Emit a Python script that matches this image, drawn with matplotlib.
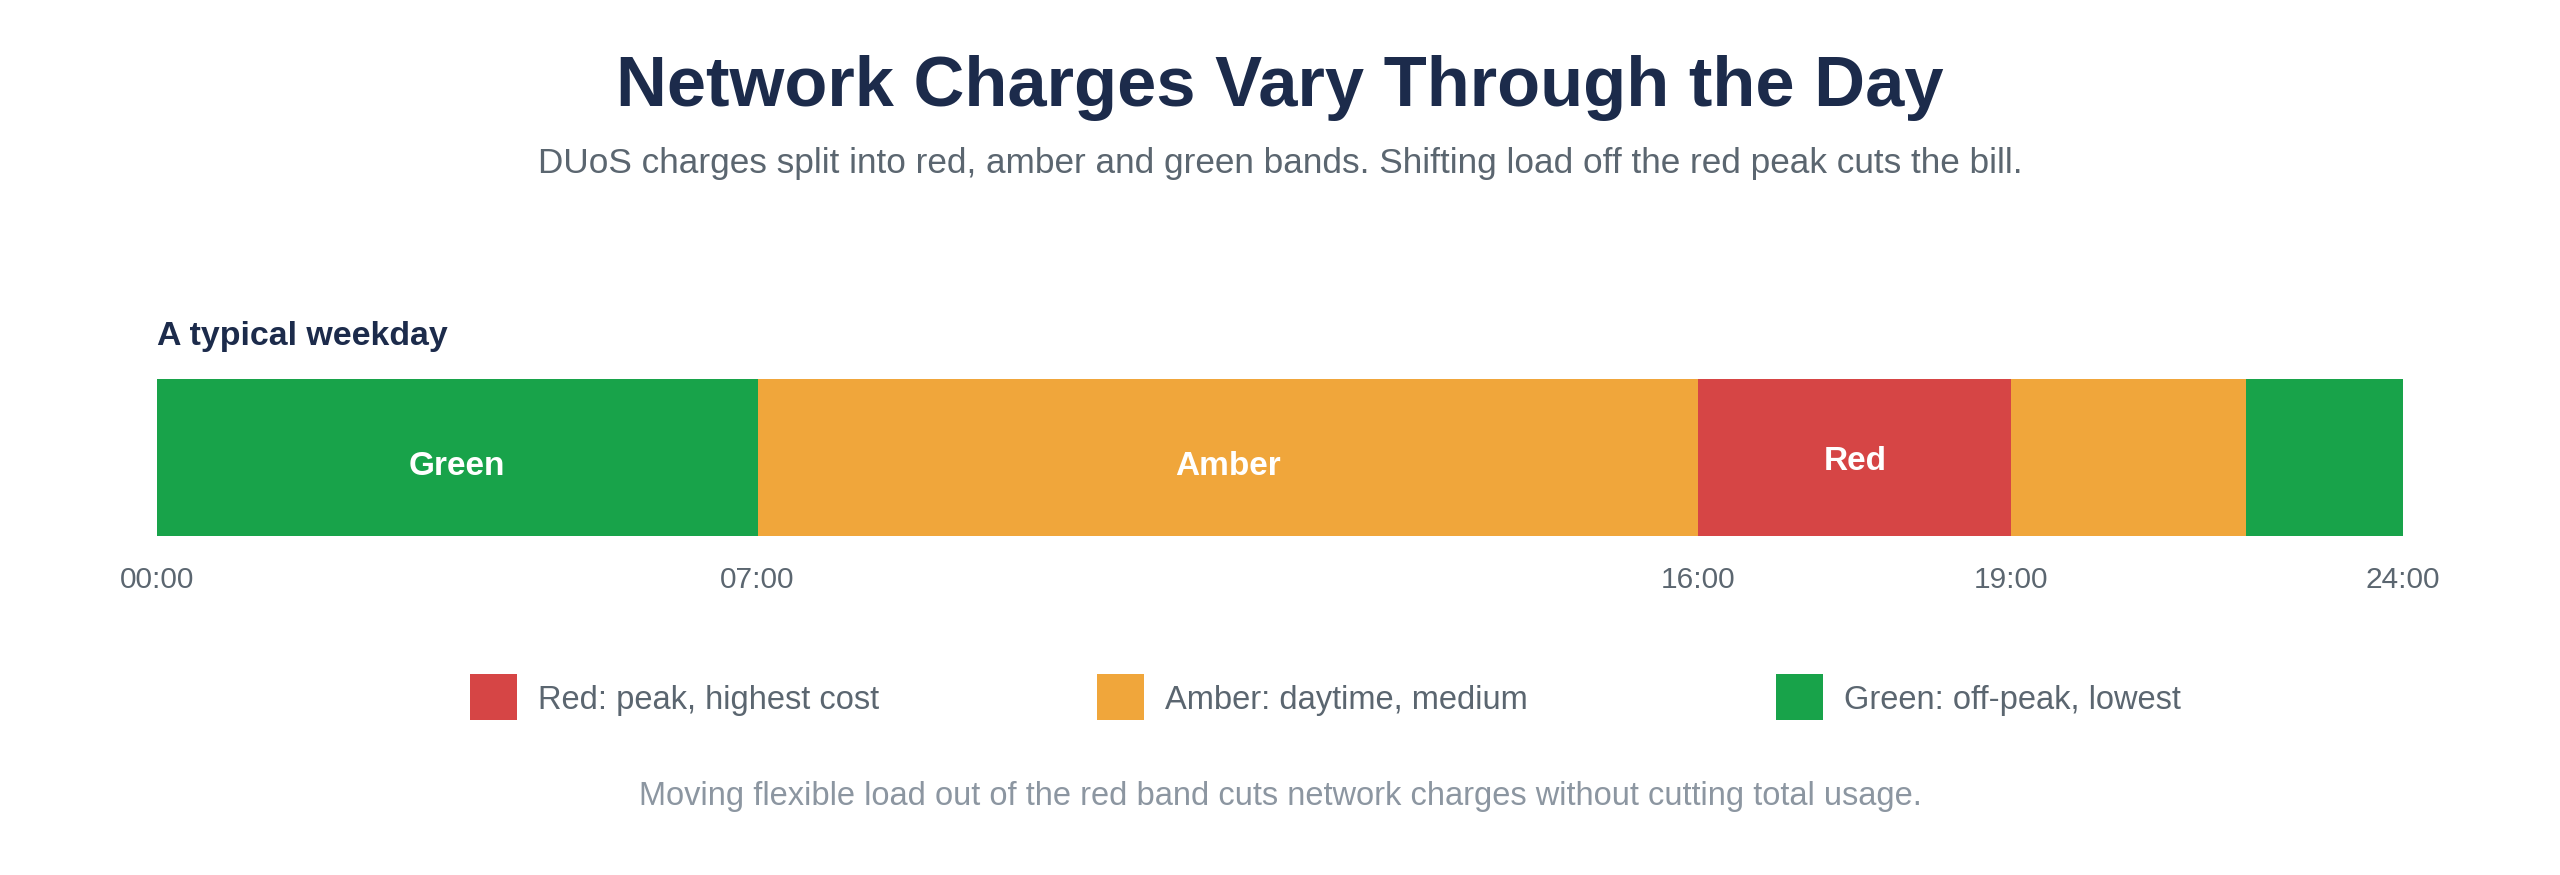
import matplotlib.pyplot as plt
from matplotlib.patches import Rectangle
import numpy as np

# Bands across the day, widths (share of bar, %)
bands = ['Green', 'Amber', 'Red', 'Amber', 'Green']
band_widths = [26.75, 41.88, 13.95, 10.46, 6.96]
band_labels = ['Green', 'Amber', 'Red', '', '']
# tick labels sit at band edges; the 4th edge has no label
edge_labels = ['00:00', '07:00', '16:00', '19:00', '', '24:00']

legend_bands = ['Red', 'Amber', 'Green']
legend_texts = ['Red: peak, highest cost', 'Amber: daytime, medium', 'Green: off-peak, lowest']

colors = {'Red': '#d64545', 'Amber': '#f0a63b', 'Green': '#18a34a'}
NAVY = '#1c2b4b'
GREY = '#5b6670'
LIGHT = '#8c96a1'

plt.rcParams['font.family'] = ['Liberation Sans', 'DejaVu Sans']

W, H = 2560, 875
fig = plt.figure(figsize=(W / 100, H / 100), dpi=100)


def fx(px):
    return px / W


def fy(py):
    return 1 - py / H


fig.text(0.5, fy(88), 'Network Charges Vary Through the Day', ha='center', va='center',
         fontsize=50.8, fontweight='bold', color=NAVY)
fig.text(0.5, fy(163), 'DUoS charges split into red, amber and green bands. Shifting load off the red peak cuts the bill.',
         ha='center', va='center', fontsize=25.3, color=GREY)
fig.text(fx(157), fy(336), 'A typical weekday', ha='left', va='center',
         fontsize=24.4, fontweight='bold', color=NAVY)

# the bar
ax = fig.add_axes([fx(156.7), fy(535.5), fx(2402.7) - fx(156.7), (535.5 - 378.8) / H])
lefts = np.concatenate([[0], np.cumsum(band_widths)[:-1]])
ax.barh(0, band_widths, left=lefts, height=1.0, color=[colors[b] for b in bands], linewidth=0)
for l, w, lab in zip(lefts, band_widths, band_labels):
    if lab:
        dy = -0.03 if lab == 'Red' else -0.06
        ax.text(l + w / 2, dy, lab, ha='center', va='center', fontsize=24,
                fontweight='bold', color='white')

edges = np.concatenate([[0], np.cumsum(band_widths)])
ticks = [e for e, t in zip(edges, edge_labels) if t]
ax.set_xticks(ticks)
ax.set_xticklabels([t for t in edge_labels if t], fontsize=21.5, color=GREY)
ax.tick_params(axis='x', length=0, pad=22)
ax.set_yticks([])
ax.set_xlim(0, edges[-1])
ax.set_ylim(-0.5, 0.5)
for s in ax.spines.values():
    s.set_visible(False)

# legend row
sw_x = [470, 1097, 1776]
for x, b, t in zip(sw_x, legend_bands, legend_texts):
    fig.add_artist(Rectangle((fx(x), fy(720)), fx(47), 46 / H, transform=fig.transFigure,
                             facecolor=colors[b], edgecolor='none'))
    fig.text(fx(x + 68), fy(701), t, ha='left', va='center', fontsize=23.5, color=GREY)

fig.text(0.5, fy(796), 'Moving flexible load out of the red band cuts network charges without cutting total usage.',
         ha='center', va='center', fontsize=23.5, color=LIGHT)

fig.savefig('out.png', dpi=100, facecolor='white')
